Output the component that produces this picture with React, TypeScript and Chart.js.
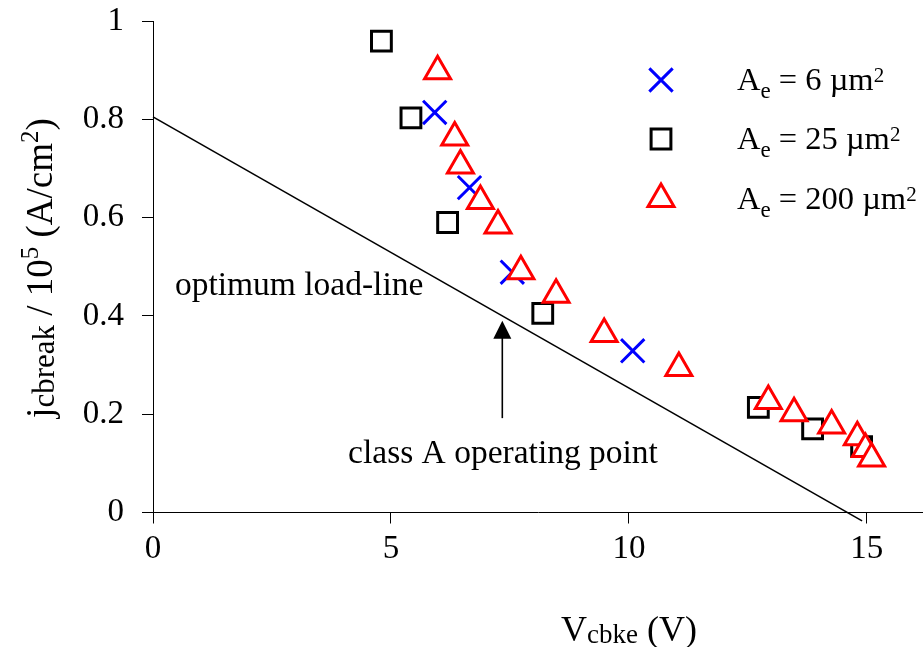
import { useEffect, useRef } from "react";
import { Chart, registerables } from "chart.js";
import { drawPoint } from "chart.js/helpers";

Chart.register(...registerables);

const FONT = '"Liberation Serif", "Times New Roman", serif';

// Axis ticks
const xTicks = [0, 5, 10, 15];
const yTicks = [0, 0.2, 0.4, 0.6, 0.8, 1];

// Breakdown current density vs. V_cbke, per emitter area
const ae6X = [5.92, 6.65, 7.55, 10.08];
const ae6Y = [0.814, 0.661, 0.489, 0.329];

const ae25X = [4.8, 5.42, 6.19, 8.19, 12.72, 13.86, 14.89];
const ae25Y = [0.959, 0.803, 0.59, 0.405, 0.214, 0.17, 0.134];

const ae200X = [5.98, 6.34, 6.46, 6.88, 7.25, 7.73, 8.47, 9.48, 11.05, 12.93, 13.47, 14.26, 14.8, 14.97, 15.1];
const ae200Y = [0.898, 0.763, 0.706, 0.634, 0.584, 0.491, 0.443, 0.363, 0.294, 0.227, 0.202, 0.177, 0.153, 0.129, 0.11];

// Optimum load-line end points
const loadLineX = [0, 14.9];
const loadLineY = [0.805, -0.017];

// Class A operating point arrow (tip and tail) and annotation anchors
const arrowX = 7.34;
const arrowTipY = 0.39;
const arrowTailY = 0.192;
const loadLineLabel = { text: "optimum load-line", x: 0.46, y: 0.4425 };
const operatingLabel = { text: "class A operating point", x: 4.1, y: 0.1007 };

// Legend entries: emitter area in µm²
const areaLabels = ["6", "25", "200"];
const areaColors = ["#0000ff", "#000000", "#ff0000"];
const areaStyles = ["crossRot", "rect", "triangle"];
const areaRadii = [16.5, 14, 15];

const zip = (xs: number[], ys: number[]) => xs.map((x, i) => ({ x, y: ys[i] }));

type Seg = { t: string; size: number; dy?: number };

function segsWidth(ctx: CanvasRenderingContext2D, segs: Seg[]) {
  let w = 0;
  for (const s of segs) {
    ctx.font = `${s.size}px ${FONT}`;
    w += ctx.measureText(s.t).width;
  }
  return w;
}

function drawSegs(ctx: CanvasRenderingContext2D, segs: Seg[], x: number, y: number) {
  let cx = x;
  for (const s of segs) {
    ctx.font = `${s.size}px ${FONT}`;
    ctx.fillText(s.t, cx, y + (s.dy || 0));
    cx += ctx.measureText(s.t).width;
  }
}

const annotations = {
  id: "annotations",
  afterDraw(chart: any) {
    const ctx: CanvasRenderingContext2D = chart.ctx;
    const xs = chart.scales.x;
    const ys = chart.scales.y;
    ctx.save();
    ctx.fillStyle = "#000";
    ctx.textBaseline = "alphabetic";
    ctx.textAlign = "left";

    // Text labels inside the plot
    ctx.font = `33.5px ${FONT}`;
    ctx.fillText(loadLineLabel.text, xs.getPixelForValue(loadLineLabel.x), ys.getPixelForValue(loadLineLabel.y));
    ctx.fillText(operatingLabel.text, xs.getPixelForValue(operatingLabel.x), ys.getPixelForValue(operatingLabel.y));

    // Arrow to the operating point
    const ax = xs.getPixelForValue(arrowX);
    const tipY = ys.getPixelForValue(arrowTipY);
    const tailY = ys.getPixelForValue(arrowTailY);
    ctx.strokeStyle = "#000";
    ctx.lineWidth = 1.6;
    ctx.beginPath();
    ctx.moveTo(ax, tailY);
    ctx.lineTo(ax, tipY + 14);
    ctx.stroke();
    ctx.beginPath();
    ctx.moveTo(ax, tipY);
    ctx.lineTo(ax - 9, tipY + 18);
    ctx.lineTo(ax + 9, tipY + 18);
    ctx.closePath();
    ctx.fill();

    // X axis title: V_cbke (V)
    const xTitle: Seg[] = [
      { t: "V", size: 36 },
      { t: "cbke", size: 27, dy: 2 },
      { t: " (V)", size: 36 },
    ];
    const xw = segsWidth(ctx, xTitle);
    drawSegs(ctx, xTitle, xs.getPixelForValue(10) - xw / 2, 641);

    // Y axis title: j_cbreak / 10^5 (A/cm^2)
    const yTitle: Seg[] = [
      { t: "j", size: 37 },
      { t: "cbreak", size: 31, dy: 2 },
      { t: " / 10", size: 37 },
      { t: "5", size: 25, dy: -14 },
      { t: " (A/cm", size: 37 },
      { t: "2", size: 25, dy: -14 },
      { t: ")", size: 37 },
    ];
    const yw = segsWidth(ctx, yTitle);
    ctx.save();
    ctx.translate(52, 268);
    ctx.rotate(-Math.PI / 2);
    drawSegs(ctx, yTitle, -yw / 2, 0);
    ctx.restore();

    // Legend
    const markerX = 661;
    const textX = 737;
    const rowY = [80, 139, 199];
    areaLabels.forEach((lab, i) => {
      ctx.fillStyle = "#fff";
      ctx.strokeStyle = areaColors[i];
      ctx.lineWidth = 3;
      drawPoint(ctx, { pointStyle: areaStyles[i], radius: areaRadii[i], borderWidth: 3, rotation: 0 } as any, markerX, rowY[i]);
      ctx.fillStyle = "#000";
      const segs: Seg[] = [
        { t: "A", size: 32.5 },
        { t: "e", size: 23, dy: 8 },
        { t: ` = ${lab} \u00b5m`, size: 32.5 },
        { t: "2", size: 21, dy: -8 },
      ];
      drawSegs(ctx, segs, textX, rowY[i] + 10);
    });

    ctx.restore();
  },
};

export default function App() {
  const ref = useRef<HTMLCanvasElement | null>(null);

  useEffect(() => {
    if (!ref.current) return;
    const tickFont = { family: FONT, size: 33 };
    const chart = new Chart(ref.current, {
      type: "scatter",
      data: {
        datasets: [
          {
            label: "optimum load-line",
            data: zip(loadLineX, loadLineY),
            showLine: true,
            borderColor: "#000",
            borderWidth: 1.6,
            pointRadius: 0,
            clip: false as any,
            order: 3,
          },
          {
            label: "Ae = 6 µm²",
            data: zip(ae6X, ae6Y),
            pointStyle: "crossRot",
            pointRadius: areaRadii[0],
            borderColor: areaColors[0],
            backgroundColor: "#fff",
            borderWidth: 3,
            order: 2,
          },
          {
            label: "Ae = 25 µm²",
            data: zip(ae25X, ae25Y),
            pointStyle: "rect",
            pointRadius: areaRadii[1],
            borderColor: areaColors[1],
            backgroundColor: "#fff",
            borderWidth: 3,
            order: 1,
          },
          {
            label: "Ae = 200 µm²",
            data: zip(ae200X, ae200Y),
            pointStyle: "triangle",
            pointRadius: areaRadii[2],
            borderColor: areaColors[2],
            backgroundColor: "#fff",
            borderWidth: 3,
            order: 0,
          },
        ],
      },
      options: {
        animation: false,
        responsive: false,
        devicePixelRatio: 1,
        layout: { autoPadding: false, padding: { top: 21, left: 0, right: 0, bottom: 0 } },
        plugins: { legend: { display: false }, tooltip: { enabled: false } },
        events: [],
        scales: {
          x: {
            type: "linear",
            min: 0,
            max: 16.18,
            afterBuildTicks: (s: any) => {
              s.ticks = xTicks.map((v) => ({ value: v }));
            },
            afterFit: (s: any) => {
              s.height = 134.5;
              s.paddingLeft = 0;
              s.paddingRight = 0;
            },
            ticks: { font: tickFont, color: "#000", padding: 6, callback: (v: any) => String(v) },
            grid: { display: true, drawOnChartArea: false, drawTicks: true, tickLength: 11, color: "#000", lineWidth: 1 },
            border: { display: true, color: "#000", width: 1 },
          },
          y: {
            type: "linear",
            min: 0,
            max: 1,
            afterBuildTicks: (s: any) => {
              s.ticks = yTicks.map((v) => ({ value: v }));
            },
            afterFit: (s: any) => {
              s.width = 153;
              s.paddingTop = 0;
              s.paddingBottom = 0;
            },
            ticks: { font: tickFont, color: "#000", padding: 18, callback: (v: any) => String(v) },
            grid: { display: true, drawOnChartArea: false, drawTicks: true, tickLength: 11, color: "#000", lineWidth: 1 },
            border: { display: true, color: "#000", width: 1 },
          },
        },
      },
      plugins: [annotations],
    } as any);
    return () => chart.destroy();
  }, []);

  return (
    <div style={{ position: "absolute", left: 0, top: 0, width: 923, height: 647, background: "#fff" }}>
      <canvas ref={ref} width={923} height={647} />
    </div>
  );
}
